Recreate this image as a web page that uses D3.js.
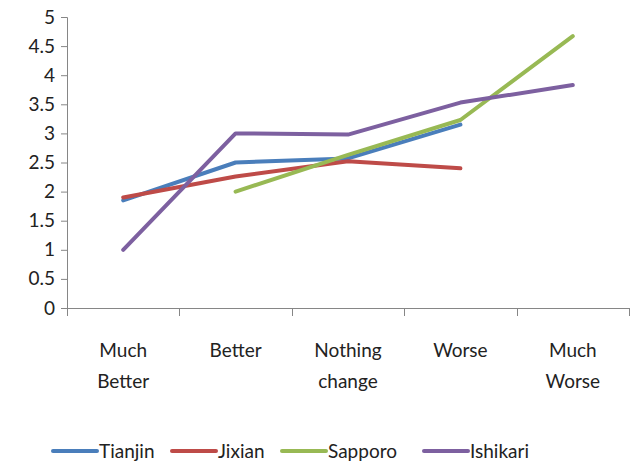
<!DOCTYPE html>
<html>
<head>
<meta charset="utf-8">
<script src="https://cdn.jsdelivr.net/npm/d3@7"></script>
<style>
  html, body { margin: 0; padding: 0; background: #fff; }
  svg text { font-family: Lato, "Open Sans", "Liberation Sans", sans-serif; fill: #222; }
</style>
</head>
<body>
<svg id="chart" width="634" height="466"></svg>
<script>
// Response categories along the x axis
const categories = ["Much Better", "Better", "Nothing change", "Worse", "Much Worse"];
const categoryLines = [["Much", "Better"], ["Better"], ["Nothing", "change"], ["Worse"], ["Much", "Worse"]];

// Mean scores per site (null = no answer in that category)
const tianjin  = [1.85, 2.50, 2.57, 3.15, null];
const jixian   = [1.90, 2.26, 2.52, 2.40, null];
const sapporo  = [null, 2.00, 2.63, 3.23, 4.67];
const ishikari = [1.00, 3.00, 2.98, 3.53, 3.83];

const seriesNames  = ["Tianjin", "Jixian", "Sapporo", "Ishikari"];
const seriesColors = ["#4a7ebb", "#be4b48", "#98b954", "#7d60a0"];
const yTicks = [0, 0.5, 1, 1.5, 2, 2.5, 3, 3.5, 4, 4.5, 5];

const series = [tianjin, jixian, sapporo, ishikari].map((vals, i) => ({
  name: seriesNames[i], color: seriesColors[i], values: vals
}));

const svg = d3.select("#chart");
const plot = { left: 67, right: 629, top: 17, bottom: 308 };

const x = d3.scaleBand().domain(categories).range([plot.left, plot.right]).padding(0);
const y = d3.scaleLinear().domain([0, 5]).range([plot.bottom, plot.top]);

const axisColor = "#868686";

// Y axis
const yAxis = svg.append("g")
  .attr("transform", `translate(${plot.left},0)`)
  .call(d3.axisLeft(y).tickValues(yTicks).tickSize(6).tickPadding(6)
    .tickFormat(d => d3.format("")(d)));
yAxis.select(".domain").attr("stroke", axisColor).attr("stroke-width", 1);
yAxis.selectAll(".tick line").attr("stroke", axisColor);
yAxis.selectAll(".tick text").attr("font-size", 19).attr("fill", "#222")
  .style("font-family", "Lato, 'Open Sans', sans-serif");

// X axis
const xAxis = svg.append("g")
  .attr("transform", `translate(0,${plot.bottom})`)
  .call(d3.axisBottom(x).tickSize(0).tickFormat(""));
xAxis.select(".domain").attr("stroke", axisColor).attr("stroke-width", 1)
  .attr("d", `M${plot.left},0.5H${plot.right}`);
xAxis.selectAll(".tick line").remove();
// Boundary ticks between categories
const bounds = categories.map(c => x(c)).concat([x(categories[categories.length - 1]) + x.bandwidth()]);
svg.append("g").selectAll("line").data(bounds).join("line")
  .attr("x1", d => Math.round(d) + 0.5).attr("x2", d => Math.round(d) + 0.5)
  .attr("y1", plot.bottom).attr("y2", plot.bottom + 8)
  .attr("stroke", axisColor);

// Category labels (two lines where needed)
const labels = svg.append("g").selectAll("text").data(categories).join("text")
  .attr("x", d => x(d) + x.bandwidth() / 2)
  .attr("y", 357)
  .attr("text-anchor", "middle")
  .attr("font-size", 19);
labels.each(function(d, i) {
  d3.select(this).selectAll("tspan").data(categoryLines[i]).join("tspan")
    .attr("x", x(d) + x.bandwidth() / 2)
    .attr("dy", (t, j) => j === 0 ? 0 : 31)
    .text(t => t);
});

// Series lines
const line = d3.line()
  .defined(d => d.v !== null)
  .x(d => x(d.c) + x.bandwidth() / 2)
  .y(d => y(d.v));

svg.append("g").selectAll("path").data(series).join("path")
  .attr("fill", "none")
  .attr("stroke", d => d.color)
  .attr("stroke-width", 4)
  .attr("stroke-linejoin", "round")
  .attr("stroke-linecap", "round")
  .attr("d", d => line(d.values.map((v, i) => ({ c: categories[i], v }))));

// Legend
const legendX = [53, 172, 282, 424];
const legend = svg.append("g").selectAll("g").data(series).join("g")
  .attr("transform", (d, i) => `translate(${legendX[i]},451)`);
legend.append("line")
  .attr("x1", 0).attr("x2", 44).attr("y1", 0).attr("y2", 0)
  .attr("stroke", d => d.color).attr("stroke-width", 4).attr("stroke-linecap", "round");
legend.append("text")
  .attr("x", 46).attr("y", 7)
  .attr("font-size", 19)
  .text(d => d.name);
</script>
</body>
</html>
